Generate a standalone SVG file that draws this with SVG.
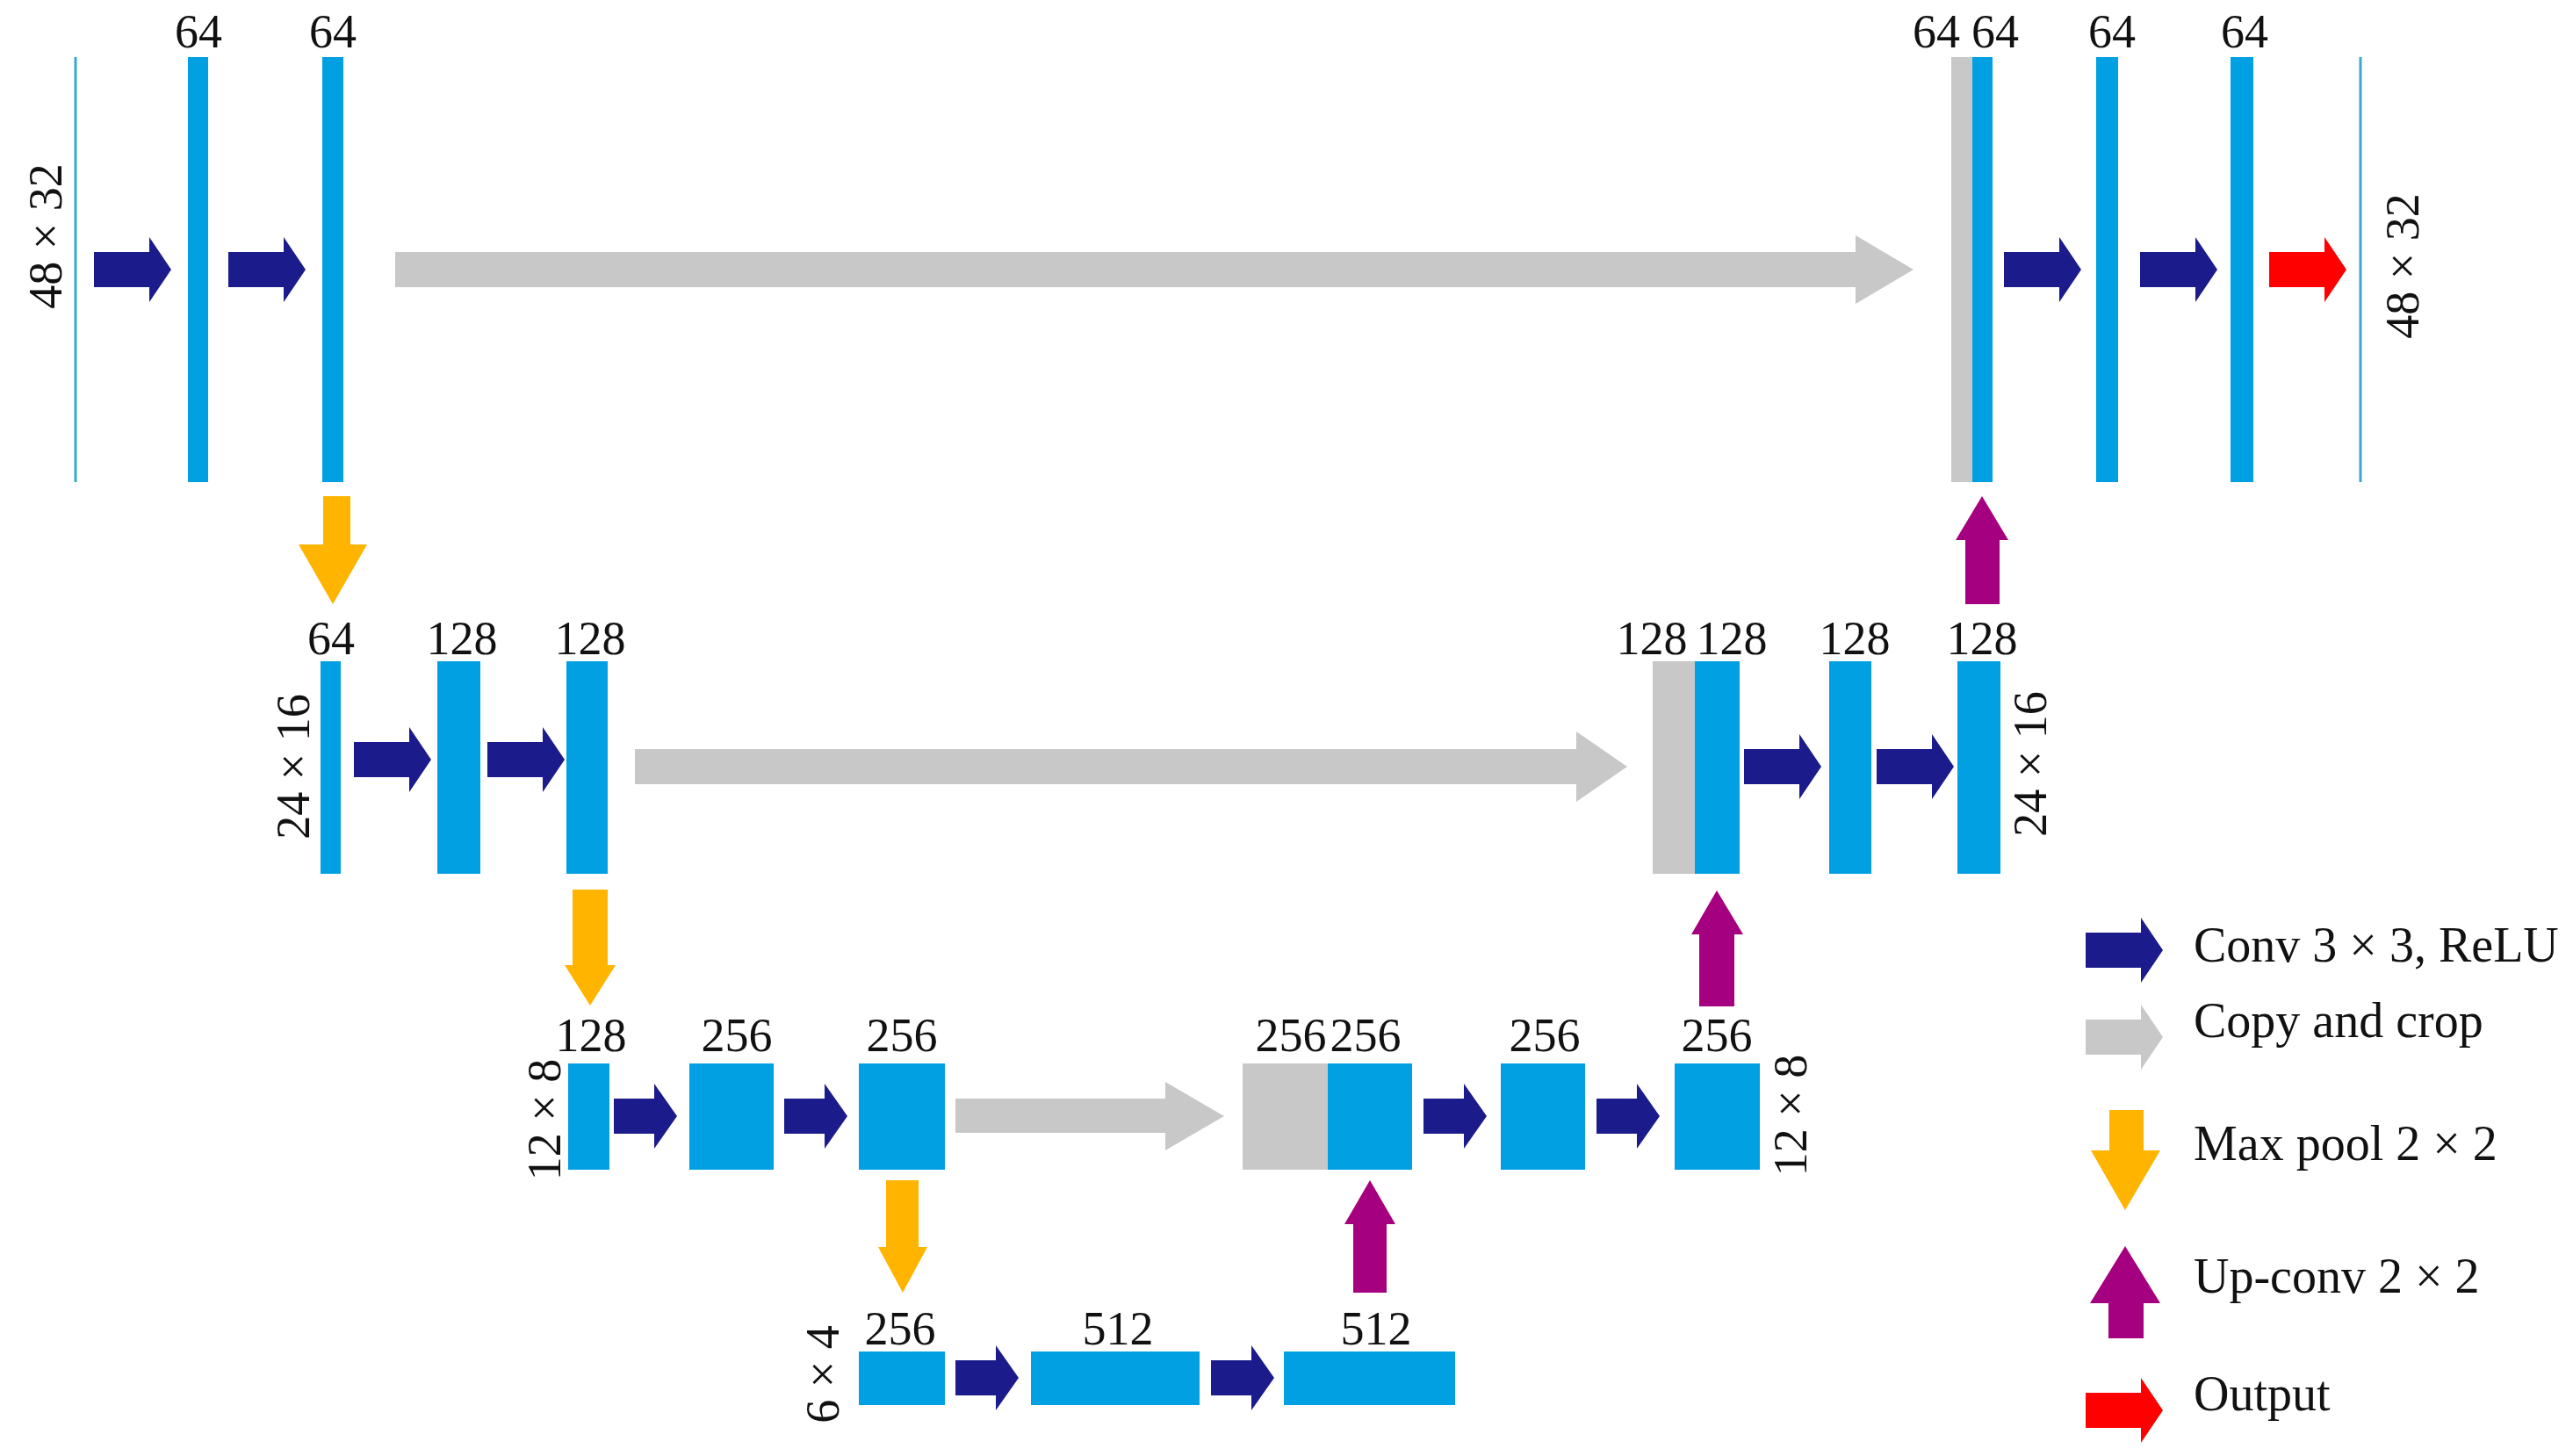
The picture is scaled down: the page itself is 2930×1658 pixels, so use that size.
<svg xmlns="http://www.w3.org/2000/svg" xmlns:xlink="http://www.w3.org/1999/xlink" width="2930" height="1658" viewBox="0 0 2930 1658">
<style>
.b{fill:#00a0e2}
.g{fill:#c8c8c8}
.t{font-family:"Liberation Serif","Times New Roman",serif;font-size:54px;fill:#111;text-anchor:middle}
.lg{font-family:"Liberation Serif","Times New Roman",serif;font-size:56px;fill:#111}
.cv{fill:#1b1b8c}
.cp{fill:#c8c8c8}
.mp{fill:#ffb400}
.up{fill:#a5007f}
.out{fill:#ff0000}
.ln{stroke:#3aa8cc;stroke-width:3}
</style>
<defs>
<path id="aL" d="M0,-20 H63 V-37 L88,0 L63,37 V20 H0 Z"/>
<path id="aS" d="M0,-20 H46 V-37 L72,0 L46,37 V20 H0 Z"/>
</defs>
<rect width="2930" height="1658" fill="#fff"/>
<g id="level1">
<line class="ln" x1="86" y1="65" x2="86" y2="549"/>
<rect class="b" x="214" y="65" width="23" height="484"/>
<rect class="b" x="367" y="65" width="24" height="484"/>
<rect class="g" x="2222" y="65" width="24" height="484"/>
<rect class="b" x="2246" y="65" width="23" height="484"/>
<rect class="b" x="2387" y="65" width="25" height="484"/>
<rect class="b" x="2540" y="65" width="26" height="484"/>
<line class="ln" x1="2688" y1="65" x2="2688" y2="549"/>
<text class="t" x="226" y="54">64</text>
<text class="t" x="379" y="54">64</text>
<text class="t" x="2205" y="54">64</text>
<text class="t" x="2272" y="54">64</text>
<text class="t" x="2405" y="54">64</text>
<text class="t" x="2556" y="54">64</text>
<text class="t" transform="translate(70,269) rotate(-90)">48 × 32</text>
<text class="t" transform="translate(2754,303) rotate(-90)">48 × 32</text>
</g>
<g id="level2">
<rect class="b" x="365" y="753" width="23" height="242"/>
<rect class="b" x="498" y="753" width="49" height="242"/>
<rect class="b" x="645" y="753" width="47" height="242"/>
<rect class="g" x="1882" y="753" width="48" height="242"/>
<rect class="b" x="1930" y="753" width="51" height="242"/>
<rect class="b" x="2083" y="753" width="48" height="242"/>
<rect class="b" x="2229" y="753" width="49" height="242"/>
<text class="t" x="377" y="745">64</text>
<text class="t" x="526" y="745">128</text>
<text class="t" x="672" y="745">128</text>
<text class="t" x="1881" y="745">128</text>
<text class="t" x="1972" y="745">128</text>
<text class="t" x="2112" y="745">128</text>
<text class="t" x="2257" y="745">128</text>
<text class="t" transform="translate(352,873) rotate(-90)">24 × 16</text>
<text class="t" transform="translate(2330,870) rotate(-90)">24 × 16</text>
</g>
<g id="level3">
<rect class="b" x="647" y="1211" width="47" height="121"/>
<rect class="b" x="785" y="1211" width="96" height="121"/>
<rect class="b" x="978" y="1211" width="98" height="121"/>
<rect class="g" x="1415" y="1211" width="97" height="121"/>
<rect class="b" x="1512" y="1211" width="96" height="121"/>
<rect class="b" x="1709" y="1211" width="96" height="121"/>
<rect class="b" x="1907" y="1211" width="97" height="121"/>
<text class="t" x="673" y="1197">128</text>
<text class="t" x="839" y="1197">256</text>
<text class="t" x="1027" y="1197">256</text>
<text class="t" x="1470" y="1197">256</text>
<text class="t" x="1555" y="1197">256</text>
<text class="t" x="1759" y="1197">256</text>
<text class="t" x="1955" y="1197">256</text>
<text class="t" transform="translate(638,1275) rotate(-90)">12 × 8</text>
<text class="t" transform="translate(2057,1270) rotate(-90)">12 × 8</text>
</g>
<g id="level4">
<rect class="b" x="978" y="1539" width="98" height="61"/>
<rect class="b" x="1174" y="1539" width="192" height="61"/>
<rect class="b" x="1462" y="1539" width="195" height="61"/>
<text class="t" x="1025" y="1531">256</text>
<text class="t" x="1273" y="1531">512</text>
<text class="t" x="1567" y="1531">512</text>
<text class="t" transform="translate(955,1565) rotate(-90)">6 × 4</text>
</g>
<g id="connectors">
<use href="#aL" class="cv" transform="translate(107,307)"/>
<use href="#aL" class="cv" transform="translate(260,307)"/>
<use href="#aL" class="cv" transform="translate(2282,307)"/>
<use href="#aL" class="cv" transform="translate(2437,307)"/>
<use href="#aL" class="out" transform="translate(2584,307)"/>
<use href="#aL" class="cv" transform="translate(403,865)"/>
<use href="#aL" class="cv" transform="translate(555,865)"/>
<use href="#aL" class="cv" transform="translate(1986,873)"/>
<use href="#aL" class="cv" transform="translate(2137,873)"/>
<use href="#aS" class="cv" transform="translate(699,1271)"/>
<use href="#aS" class="cv" transform="translate(893,1271)"/>
<use href="#aS" class="cv" transform="translate(1621,1271)"/>
<use href="#aS" class="cv" transform="translate(1818,1271)"/>
<use href="#aS" class="cv" transform="translate(1088,1569)"/>
<use href="#aS" class="cv" transform="translate(1379,1569)"/>
<path class="cp" d="M450,287 H2113 V268 L2179,307 L2113,346 V327 H450 Z"/>
<path class="cp" d="M723,853 H1795 V833 L1853,873 L1795,913 V893 H723 Z"/>
<path class="cp" d="M1088,1251 H1327 V1232 L1394,1271 L1327,1310 V1290 H1088 Z"/>
<path class="mp" d="M368,565 H399 V620 H418 L379,688 L340,620 H368 Z"/>
<path class="mp" d="M652,1013 H692 V1099 H701 L672,1145 L643,1099 H652 Z"/>
<path class="mp" d="M1009,1344 H1046 V1420 H1056 L1028,1472 L1000,1420 H1009 Z"/>
<path class="up" d="M1541,1472 H1579 V1394 H1589 L1560,1344 L1531,1394 H1541 Z"/>
<path class="up" d="M1935,1146 H1975 V1064 H1985 L1955,1014 L1926,1064 H1935 Z"/>
<path class="up" d="M2238,688 H2277 V615 H2287 L2257,565 L2227,615 H2238 Z"/>
</g>
<g id="legend">
<use href="#aL" class="cv" transform="translate(2375,1082)"/>
<use href="#aL" class="cp" transform="translate(2375,1181)"/>
<path class="mp" d="M2402,1264 H2441 V1310 H2460 L2420,1378 L2381,1310 H2402 Z"/>
<path class="up" d="M2401,1524 H2441 V1484 H2460 L2420,1419 L2380,1484 H2401 Z"/>
<use href="#aL" class="out" transform="translate(2375,1606)"/>
<text class="lg" x="2498" y="1095">Conv 3 × 3, ReLU</text>
<text class="lg" x="2498" y="1181">Copy and crop</text>
<text class="lg" x="2498" y="1321">Max pool 2 × 2</text>
<text class="lg" x="2498" y="1472">Up-conv 2 × 2</text>
<text class="lg" x="2498" y="1606">Output</text>
</g>
</svg>
